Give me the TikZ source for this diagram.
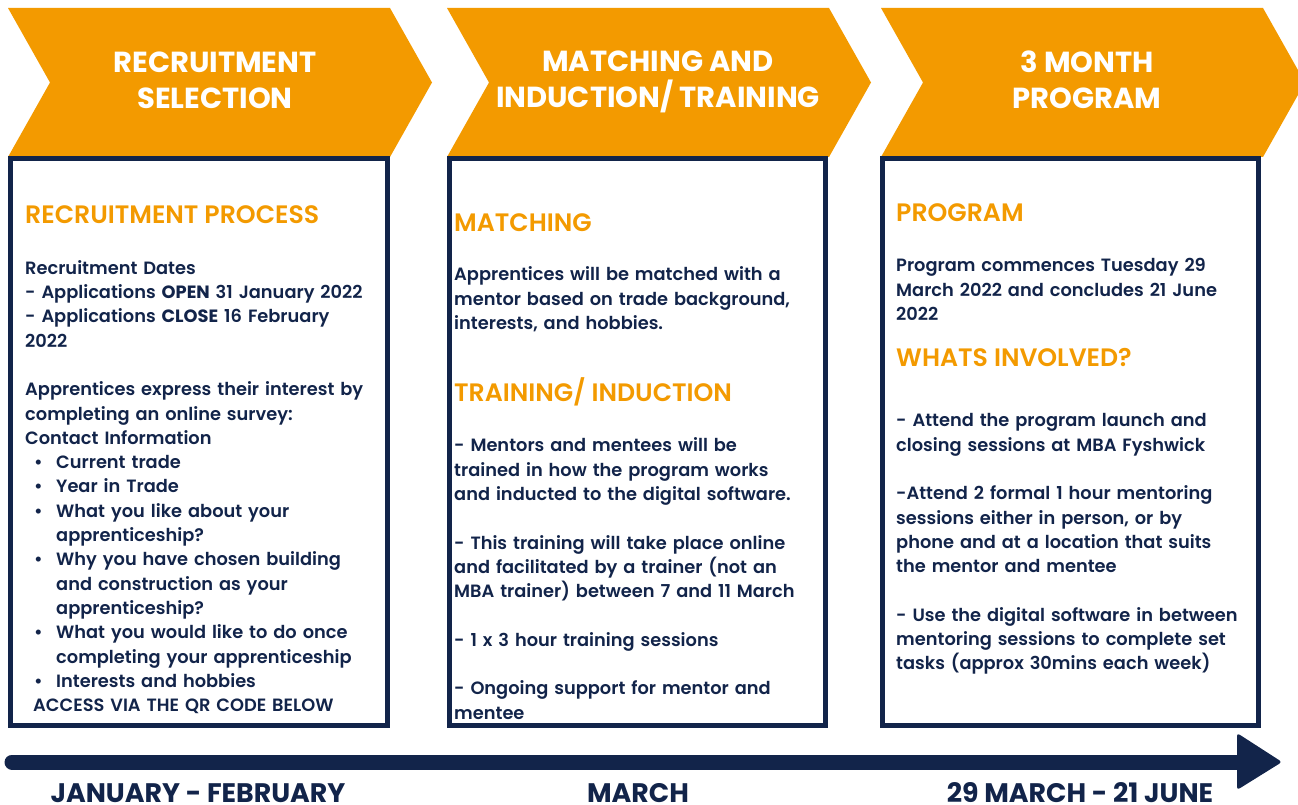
\documentclass[tikz,border=0pt]{standalone}
\usepackage{fontspec}
\setmainfont{Poppins}[UprightFont={* SemiBold},BoldFont={* Bold}]
\definecolor{orng}{HTML}{F39A00}
\definecolor{navy}{HTML}{12244A}
\newcommand\bul[1]{\leavevmode\hbox to 31pt{\hskip 9pt\textbullet\hfil}#1}
\newcommand\ind{\hspace*{31pt}}
\tikzset{
 chev/.style={fill=orng},
 panel/.style={draw=navy, line width=5pt, fill=white},
 title/.style={text=white, font=\fontsize{29}{36}\selectfont\bfseries, align=center, inner sep=0},
 head/.style={text=orng, font=\fontsize{25.2}{29}\selectfont, anchor=base west, inner sep=0},
 body/.style={text=navy, font=\fontsize{17.8}{24.3}\selectfont, anchor=north west, inner sep=0, text width=380pt, align=left},
 when/.style={text=navy, font=\fontsize{26.8}{30}\selectfont\bfseries, anchor=base, inner sep=0},
}
\begin{document}
\begin{tikzpicture}[x=1pt,y=-1pt]
\useasboundingbox (0,0) rectangle (1298,805);
% chevrons
\foreach \x in {8,447,881}{
  \path[chev] (\x,8) -- ++(382,0) -- ++(42,74.5) -- ++(-42,74.5) -- ++(-382,0) -- ++(42,-74.5) -- cycle;
}
% panels
\draw[panel] (10.5,159) rectangle (387.5,725);
\draw[panel] (449,159) rectangle (825,725);
\draw[panel] (882,159) rectangle (1258.5,725);
% titles
\node[title] (t1) at (215,80) {RECRUITMENT\\SELECTION};
\node[title] (t2) at (658,82) {MATCHING AND\\INDUCTION/ TRAINING};
\node[title] (t3) at (1087,80) {3 MONTH\\PROGRAM};
% box 1
\node[head] (h1) at (25,224) {RECRUITMENT PROCESS};
\node[body] (b1) at (25,257) {\strut Recruitment Dates\\
- Applications \textbf{OPEN} 31 January 2022\\
- Applications \textbf{CLOSE} 16 February\\
2022\\[24.3pt]
Apprentices express their interest by\\
completing an online survey:\\
Contact Information\\
\bul{Current trade}\\
\bul{Year in Trade}\\
\bul{What you like about your}\\
\ind apprenticeship?\\
\bul{Why you have chosen building}\\
\ind and construction as your\\
\ind apprenticeship?\\
\bul{What you would like to do once}\\
\ind completing your apprenticeship\\
\bul{Interests and hobbies}\\
\hspace*{8pt}ACCESS VIA THE QR CODE BELOW};
% box 2
\node[head] (h2a) at (454,231.7) {MATCHING};
\node[body] (b2a) at (454,263.7) {\strut Apprentices will be matched with a\\
mentor based on trade background,\\
interests, and hobbies.};
\node[head] (h2b) at (454,401.7) {TRAINING/ INDUCTION};
\node[body] (b2b) at (454,434.7) {\strut - Mentors and mentees will be\\
trained in how the program works\\
and inducted to the digital software.\\[24.3pt]
- This training will take place online\\
and facilitated by a trainer (not an\\
MBA trainer) between 7 and 11 March\\[24.3pt]
- 1 x 3 hour training sessions\\[24.3pt]
- Ongoing support for mentor and\\
mentee};
% box 3
\node[head] (h3a) at (896,221.7) {PROGRAM};
\node[body] (b3a) at (896,254.7) {\strut Program commences Tuesday 29\\
March 2022 and concludes 21 June\\
2022};
\node[head] (h3b) at (896,366.7) {WHATS INVOLVED?};
\node[body] (b3b) at (896,409.7) {\strut - Attend the program launch and\\
closing sessions at MBA Fyshwick\\[24.3pt]
-Attend 2 formal 1 hour mentoring\\
sessions either in person, or by\\
phone and at a location that suits\\
the mentor and mentee\\[24.3pt]
- Use the digital software in between\\
mentoring sessions to complete set\\
tasks (approx 30mins each week)};
% timeline
\coordinate (tl0) at (12,762);
\coordinate (tl1) at (1245,762);
\draw[navy, line width=15pt, line cap=round] (tl0) -- (tl1);
\fill[navy, rounded corners=3pt] (1237,733) -- (1282,762) -- (1237,790) -- cycle;
\node[when] (w1) at (198,802.5) {JANUARY - FEBRUARY};
\node[when] (w2) at (638,802.5) {MARCH};
\node[when] (w3) at (1080,802.5) {29 MARCH - 21 JUNE};
\end{tikzpicture}
\end{document}
